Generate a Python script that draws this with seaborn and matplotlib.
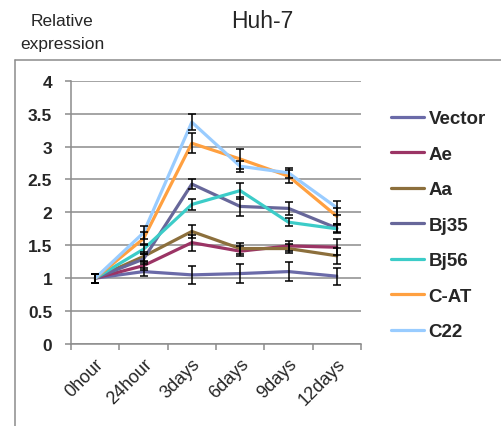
import numpy as np
import pandas as pd
import matplotlib
matplotlib.use("Agg")
import matplotlib.pyplot as plt
from matplotlib.lines import Line2D
import seaborn as sns

# data
timepoints = ["0hour", "24hour", "3days", "6days", "9days", "12days"]
groups = ["Vector", "Ae", "Aa", "Bj35", "Bj56", "C-AT", "C22"]

vector = [1.00, 1.10, 1.05, 1.07, 1.10, 1.03]
ae = [1.00, 1.19, 1.54, 1.41, 1.49, 1.47]
aa = [1.00, 1.33, 1.71, 1.45, 1.45, 1.34]
bj35 = [1.00, 1.29, 2.43, 2.09, 2.06, 1.76]
bj56 = [1.00, 1.44, 2.12, 2.33, 1.85, 1.75]
c_at = [1.00, 1.60, 3.05, 2.81, 2.55, 1.94]
c22 = [1.00, 1.69, 3.37, 2.70, 2.60, 2.07]

vector_err = [0.07, 0.06, 0.14, 0.14, 0.14, 0.13]
ae_err = [0.07, 0.06, 0.12, 0.08, 0.08, 0.12]
aa_err = [0.07, 0.07, 0.10, 0.08, 0.07, 0.12]
bj35_err = [0.07, 0.08, 0.07, 0.15, 0.10, 0.06]
bj56_err = [0.07, 0.08, 0.09, 0.12, 0.06, 0.06]
c_at_err = [0.07, 0.10, 0.15, 0.15, 0.10, 0.12]
c22_err = [0.07, 0.10, 0.12, 0.08, 0.08, 0.11]

colors = ["#6A6AA8", "#9B3465", "#8C6F3C", "#67679A", "#3CCCC8", "#FFA040", "#99CCFF"]

values = [vector, ae, aa, bj35, bj56, c_at, c22]
errors = [vector_err, ae_err, aa_err, bj35_err, bj56_err, c_at_err, c22_err]

rows = []
for g, vals, errs in zip(groups, values, errors):
    for i, (t, v, e) in enumerate(zip(timepoints, vals, errs)):
        rows.append({"group": g, "time": t, "pos": i, "value": v, "err": e})
df = pd.DataFrame(rows)

sns.set_theme(style="white")
plt.rcParams["font.family"] = ["Liberation Sans", "DejaVu Sans"]

fig = plt.figure(figsize=(5.02, 4.27), dpi=100)
ax = fig.add_axes([71 / 502, 1 - 345 / 427, 290 / 502, (345 - 81.7) / 427])

sns.lineplot(data=df, x="pos", y="value", hue="group", hue_order=groups,
             palette=colors, linewidth=2.3, sort=False, ax=ax, legend=False)

for g in groups:
    sub = df[df["group"] == g]
    ax.errorbar(sub["pos"], sub["value"], yerr=sub["err"], fmt="none",
                ecolor="black", elinewidth=1.1, capsize=3, capthick=1.1, zorder=5)

ax.set_xlim(-0.5, 5.5)
ax.set_ylim(0, 4)
ax.set_yticks(np.arange(0, 4.01, 0.5))
ax.set_yticklabels(["0", "0.5", "1", "1.5", "2", "2.5", "3", "3.5", "4"],
                   fontsize=12.5, fontweight="bold")
ax.set_xticks(range(len(timepoints)))
ax.set_xticklabels(timepoints, rotation=45, ha="right", rotation_mode="anchor",
                   fontsize=13)
ax.set_xticks(np.arange(-0.5, 5.6, 1), minor=True)
ax.tick_params(axis="x", which="major", length=0, pad=8)
ax.tick_params(axis="x", which="minor", length=4.5, width=1.1, color="#8c8c8c",
               direction="out", bottom=True)
ax.tick_params(axis="y", length=4.5, width=1.1, color="#8c8c8c", direction="out",
               left=True, pad=9)
ax.set_xlabel("")
ax.set_ylabel("")

ax.yaxis.grid(True, color="#8c8c8c", linewidth=1.1)
ax.set_axisbelow(True)
for side in ["top", "right"]:
    ax.spines[side].set_visible(False)
for side in ["left", "bottom"]:
    ax.spines[side].set_color("#8c8c8c")
    ax.spines[side].set_linewidth(1.1)

handles = [Line2D([], [], color=c, linewidth=2.3) for c in colors]
leg = fig.legend(handles, groups, loc="upper left",
                 bbox_to_anchor=(391 / 502, 1 - 111 / 427), frameon=False,
                 prop={"size": 13.5, "weight": "bold"}, handlelength=1.75,
                 handletextpad=0.25, labelspacing=0.98, borderpad=0,
                 borderaxespad=0)

fig.text(262 / 502, 1 - 22 / 427, "Huh-7", ha="center", va="center", fontsize=16.5)
fig.text(62 / 502, 1 - 22 / 427, "Relative", ha="center", va="center", fontsize=12.5)
fig.text(62 / 502, 1 - 44 / 427, "expression", ha="center", va="center", fontsize=12.5)

# outer chart frame (left and top only visible)
fig.add_artist(Line2D([15.5 / 502, 15.5 / 502], [0, 1 - 60.5 / 427],
                      color="#8c8c8c", linewidth=1.1, transform=fig.transFigure))
fig.add_artist(Line2D([15.5 / 502, 1], [1 - 60.5 / 427, 1 - 60.5 / 427],
                      color="#8c8c8c", linewidth=1.1, transform=fig.transFigure))

fig.savefig("out.png", dpi=100)
